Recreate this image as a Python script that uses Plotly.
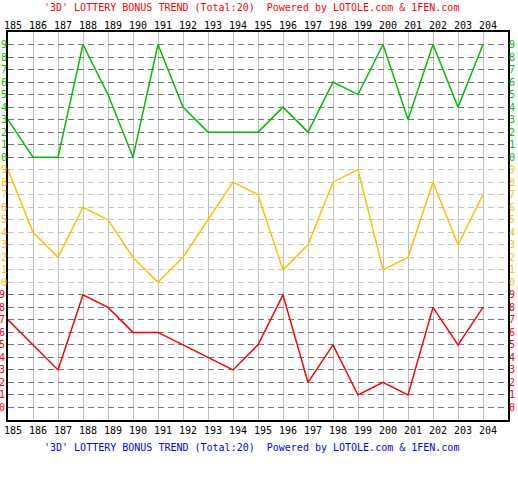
import plotly.graph_objects as go

# ---- data ----
draws = list(range(185, 205))
draw_labels = [str(d) for d in draws]
green_digit = [3, 0, 0, 9, 5, 0, 9, 4, 2, 2, 2, 4, 2, 6, 5, 9, 3, 9, 4, 9]
orange_digit = [9, 4, 2, 6, 5, 2, 0, 2, 5, 8, 7, 1, 3, 8, 9, 1, 2, 8, 3, 7]
red_digit = [7, 5, 3, 9, 8, 6, 6, 5, 4, 3, 5, 9, 2, 5, 1, 2, 1, 8, 5, 8]
digits = list(range(10))
digit_labels = [str(d) for d in digits]
title_text = "'3D' LOTTERY BONUS TREND (Total:20)  Powered by LOTOLE.com & 1FEN.com"

GREEN = "#00c000"
ORANGE = "#ffc000"
RED = "#ff0000"
DARK_GRID = "#757575"
LIGHT_GRID = "#c4c4c4"
VGRID = "#c0c0c0"
FONT = "DejaVu Sans Mono"

fig = go.Figure()
fig.add_trace(go.Scatter(x=draws, y=red_digit, mode="lines", xaxis="x", yaxis="y",
                         line=dict(color=RED, width=1.5), hoverinfo="skip"))
fig.add_trace(go.Scatter(x=draws, y=orange_digit, mode="lines", xaxis="x", yaxis="y2",
                         line=dict(color=ORANGE, width=1.5), hoverinfo="skip"))
fig.add_trace(go.Scatter(x=draws, y=green_digit, mode="lines", xaxis="x2", yaxis="y3",
                         line=dict(color=GREEN, width=1.5), hoverinfo="skip"))
for ya in ["y4", "y5", "y6"]:
    fig.add_trace(go.Scatter(x=[], y=[], mode="lines", xaxis="x", yaxis=ya, hoverinfo="skip"))

ycommon = dict(tickvals=digits, ticktext=digit_labels, zeroline=False, ticks="",
               automargin=False, fixedrange=True, griddash="6px,4px", gridwidth=1,
               ticklabeloverflow="allow")

def yax(rng, color, grid, side="left", overlay=None, showgrid=True):
    d = dict(ycommon)
    d.update(range=rng, side=side, showgrid=showgrid, gridcolor=grid,
             tickfont=dict(family=FONT, size=10, color=color))
    if overlay:
        d["overlaying"] = overlay
    return d

fig.update_layout(
    width=518, height=500,
    margin=dict(l=8, r=10, t=32, b=80),
    plot_bgcolor="white", paper_bgcolor="white",
    showlegend=False,
    xaxis=dict(range=[185, 205], tickvals=draws, ticktext=draw_labels, side="bottom",
               showgrid=True, gridcolor=VGRID, gridwidth=1, zeroline=False,
               showline=True, linecolor="black", linewidth=2, mirror=True,
               ticks="", ticklabelshift=5, automargin=False, fixedrange=True,
               ticklabeloverflow="allow",
               tickfont=dict(family=FONT, size=10, color="black")),
    xaxis2=dict(range=[185, 205], tickvals=draws, ticktext=draw_labels, side="top",
                overlaying="x", showgrid=False, zeroline=False, ticks="",
                ticklabelshift=5, automargin=False, fixedrange=True,
                ticklabeloverflow="allow",
                tickfont=dict(family=FONT, size=10, color="black")),
    yaxis=dict(yax([-1, 30], RED, DARK_GRID), showline=True, linecolor="black",
               linewidth=2, mirror=True, ticklabelstandoff=-1),
    yaxis2=yax([-11, 20], ORANGE, LIGHT_GRID, overlay="y"),
    yaxis3=yax([-21, 10], GREEN, DARK_GRID, overlay="y"),
    yaxis4=yax([-1, 30], RED, DARK_GRID, side="right", overlay="y", showgrid=False),
    yaxis5=yax([-11, 20], ORANGE, LIGHT_GRID, side="right", overlay="y", showgrid=False),
    yaxis6=yax([-21, 10], GREEN, DARK_GRID, side="right", overlay="y", showgrid=False),
    annotations=[
        dict(text=title_text, xref="paper", yref="paper", x=0.486, y=1, xanchor="center",
             yanchor="middle", yshift=25, showarrow=False,
             font=dict(family=FONT, size=10, color="#ff0000")),
        dict(text=title_text, xref="paper", yref="paper", x=0.486, y=0, xanchor="center",
             yanchor="middle", yshift=-27, showarrow=False,
             font=dict(family=FONT, size=10, color="#0000ff")),
    ],
)

fig.write_html("out.html", config={"displayModeBar": False},
               post_script="document.body.style.margin='0px';")
